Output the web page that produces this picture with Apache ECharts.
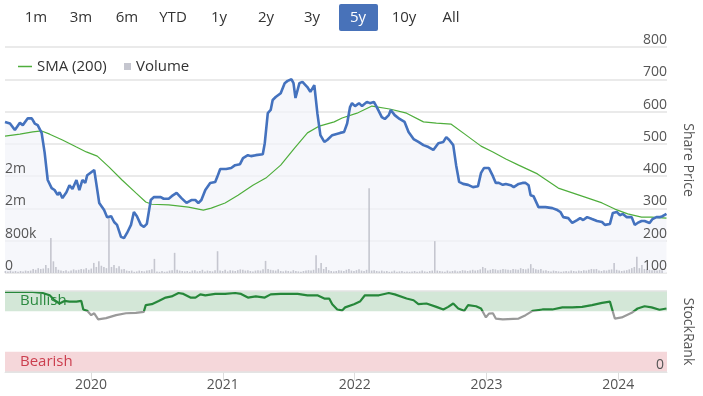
<!DOCTYPE html>
<html><head><meta charset="utf-8">
<script src="https://cdn.jsdelivr.net/npm/echarts@6/dist/echarts.min.js"></script>
<style>html,body{margin:0;padding:0;background:#fff}#c{width:703px;height:396px}</style>
</head><body><div id="c"></div>
<script>
// Time is expressed in decimal years
const xMin = 2019.347, xMax = 2024.37;
const yearTicks = [2020, 2021, 2022, 2023, 2024];
const rangeButtons = ['1m','3m','6m','YTD','1y','2y','3y','5y','10y','All'];
const priceTicks = [100,200,300,400,500,600,700,800];

const priceT = [2019.347,2019.385,2019.422,2019.460,2019.482,2019.520,2019.550,2019.573,2019.595,2019.625,2019.648,2019.671,2019.701,2019.723,2019.746,2019.761,2019.783,2019.813,2019.836,2019.859,2019.889,2019.911,2019.934,2019.956,2019.971,2020.024,2020.039,2020.062,2020.099,2020.122,2020.152,2020.175,2020.197,2020.227,2020.250,2020.273,2020.303,2020.325,2020.348,2020.378,2020.401,2020.423,2020.453,2020.476,2020.529,2020.551,2020.589,2020.612,2020.649,2020.686,2020.724,2020.761,2020.791,2020.814,2020.837,2020.867,2020.904,2020.942,2020.957,2020.980,2021.025,2021.063,2021.093,2021.130,2021.153,2021.190,2021.213,2021.250,2021.303,2021.318,2021.341,2021.363,2021.378,2021.401,2021.439,2021.469,2021.491,2021.521,2021.536,2021.551,2021.581,2021.604,2021.641,2021.664,2021.694,2021.717,2021.740,2021.770,2021.792,2021.830,2021.890,2021.920,2021.943,2021.965,2021.980,2022.003,2022.033,2022.056,2022.093,2022.116,2022.146,2022.168,2022.206,2022.229,2022.259,2022.274,2022.304,2022.341,2022.379,2022.409,2022.447,2022.484,2022.522,2022.560,2022.597,2022.635,2022.673,2022.695,2022.718,2022.748,2022.770,2022.793,2022.823,2022.861,2022.898,2022.936,2022.959,2022.981,2023.019,2023.049,2023.071,2023.094,2023.124,2023.147,2023.184,2023.207,2023.244,2023.274,2023.297,2023.320,2023.335,2023.357,2023.395,2023.448,2023.500,2023.538,2023.561,2023.583,2023.621,2023.651,2023.688,2023.711,2023.734,2023.764,2023.801,2023.839,2023.877,2023.899,2023.937,2023.959,2023.989,2024.012,2024.035,2024.065,2024.102,2024.125,2024.147,2024.177,2024.200,2024.238,2024.260,2024.290,2024.313,2024.336,2024.366];
const priceV = [568,563,543,565,558,579,579,563,558,534,472,388,363,357,342,350,332,350,372,360,388,357,388,379,403,419,379,317,295,273,276,258,249,212,208,224,249,289,276,249,243,252,326,335,335,330,330,338,348,332,317,326,326,317,326,357,379,382,397,422,422,425,434,437,456,465,462,465,468,502,595,605,636,645,657,688,695,700,688,642,688,692,676,661,682,595,527,506,512,527,534,537,563,614,626,617,626,617,630,626,630,614,583,577,589,605,589,577,568,537,515,506,496,490,481,502,506,521,512,496,434,382,376,373,366,369,410,425,425,400,379,379,373,376,372,366,376,379,379,372,341,338,304,304,301,295,289,273,270,255,264,270,264,273,267,261,258,249,252,286,289,279,283,273,273,249,255,261,261,255,267,273,273,276,283];

const smaT = [2019.347,2019.460,2019.558,2019.625,2019.686,2019.783,2019.889,2019.964,2020.047,2020.137,2020.235,2020.340,2020.415,2020.461,2020.589,2020.739,2020.852,2020.912,2021.017,2021.115,2021.228,2021.326,2021.439,2021.544,2021.642,2021.732,2021.845,2021.905,2022.018,2022.131,2022.266,2022.394,2022.522,2022.620,2022.733,2022.846,2022.959,2023.049,2023.147,2023.244,2023.387,2023.545,2023.748,2023.877,2023.974,2024.072,2024.177,2024.253,2024.366];
const smaV = [524,530,537,540,530,512,490,475,462,428,388,348,320,313,311,304,295,301,317,341,372,394,434,487,534,555,568,580,595,617,608,595,568,564,561,527,493,475,453,434,407,363,335,317,298,283,273,273,270];

// weekly volume (thousands of shares), first week starting at volStart
const volStart = 2019.35;
const volK = [50,40,60,40,50,30,50,40,60,50,
 60,100,80,120,100,110,200,120,870,290,
 150,80,60,50,70,40,60,90,70,80,
 100,90,120,80,110,250,150,290,180,150,
 120,1370,150,200,120,170,90,100,60,50,
 60,30,40,60,50,40,60,70,90,350,
 40,30,50,30,40,60,70,500,80,60,
 50,40,50,30,60,70,40,50,80,40,
 60,50,40,70,540,60,50,80,40,70,
 60,50,70,90,80,60,70,50,40,60,
 70,60,90,300,100,80,70,60,90,50,
 40,60,50,40,70,50,40,30,50,60,
 70,60,80,440,120,250,100,150,70,50,
 40,50,70,60,50,80,100,60,50,70,
 90,60,50,80,2100,60,70,50,40,60,
 40,50,30,40,60,30,40,50,30,40,
 30,40,50,30,40,60,40,30,50,60,
 790,60,50,40,30,60,40,50,60,40,
 50,70,60,50,60,80,60,70,90,150,
 120,60,80,100,90,70,80,100,90,80,
 70,100,90,80,120,100,90,110,220,120,
 90,80,100,60,70,50,40,60,50,40,
 30,40,50,40,60,50,40,60,50,70,
 60,80,100,90,100,60,50,70,60,80,
 90,250,80,60,50,60,70,90,120,150,
 400,120,200,100,90,80,70,90,60,80,70];

const rankT = [2019.347,2019.558,2019.633,2019.686,2019.723,2019.761,2019.798,2019.836,2019.889,2019.926,2019.941,2019.971,2020.001,2020.024,2020.054,2020.114,2020.190,2020.265,2020.340,2020.400,2020.415,2020.461,2020.513,2020.566,2020.611,2020.664,2020.701,2020.754,2020.792,2020.829,2020.867,2020.942,2021.017,2021.093,2021.138,2021.190,2021.250,2021.318,2021.363,2021.439,2021.567,2021.642,2021.717,2021.770,2021.807,2021.830,2021.868,2021.905,2021.928,2021.943,2021.995,2022.040,2022.078,2022.184,2022.259,2022.304,2022.394,2022.447,2022.484,2022.545,2022.620,2022.673,2022.710,2022.748,2022.786,2022.831,2022.861,2022.921,2022.959,2022.996,2023.019,2023.049,2023.071,2023.124,2023.244,2023.297,2023.350,2023.425,2023.500,2023.576,2023.651,2023.726,2023.801,2023.877,2023.937,2023.974,2024.027,2024.102,2024.147,2024.200,2024.253,2024.313,2024.366];
const rankV = [98.8,98.8,97.5,94.7,88.6,84.6,87.7,86.9,86.9,87.7,77.2,75.5,70.2,72.5,65,66.5,70.2,72.5,73,74.3,82.5,83.7,87.7,91.9,93.3,97.5,96.4,91.9,91.9,95.8,94.7,96.4,96.4,97.5,96.4,91.9,93.3,91.9,95.8,96.4,96.4,94.7,94.7,90.7,90.7,83.7,77.2,76,79.8,79.8,83.7,86.9,94.7,94.7,97.5,95.8,90.7,88.6,83.7,84.6,80.4,77.2,80.4,84.6,78.4,75.5,82.5,81.2,78.4,67.4,72,72.5,66,65,66,70.2,75.5,77.2,77.2,79.8,79.8,80.4,82.5,85.3,86.9,66,67.4,73,78.4,81.2,79.8,76.8,78.4];
const bullishBand = [75, 100], bearishBand = [0, 25];

const zip = (a, b) => a.map((t, i) => [t, b[i]]);
const volData = volK.map((v, i) => [volStart + i * 7 / 365.25, v * 1000]);

const FONT = 'Open Sans';
const btnX = [36,81,127,173,219,266,312,358,404,451];
const graphics = [];
rangeButtons.forEach((b, i) => {
  const sel = b === '5y';
  if (sel) graphics.push({type:'rect', shape:{x:339,y:4,width:39,height:27,r:2}, style:{fill:'#4872b9'}});
  graphics.push({type:'text', x:btnX[i], y:18, style:{text:b, fill: sel ? '#fff' : '#333', font:'15px "'+FONT+'"', align:'center', verticalAlign:'middle'}});
});

// StockRank panel geometry (pixels) used for the threshold gradient
const rankTop = 291, rankH = 81;
const thr = 1 - bullishBand[0] / 100;
const rankColor = {type:'linear', x:0, y:rankTop, x2:0, y2:rankTop + rankH, global:true,
  colorStops:[{offset:0,color:'#26873a'},{offset:thr,color:'#26873a'},{offset:thr,color:'#9a9a9a'},{offset:1,color:'#9a9a9a'}]};

const lbl = {inside:true, verticalAlign:'bottom', color:'#555', fontSize:14, fontFamily:FONT};
const nameStyle = {fontSize:14, color:'#555', fontFamily:FONT};

const chart = echarts.init(document.getElementById('c'), null, {renderer:'canvas'});
chart.setOption({
  animation:false,
  textStyle:{fontFamily:FONT},
  graphic: graphics,
  legend:[
    {data:[{name:'SMA (200)', icon:'rect'}], left:13, top:54, itemWidth:14, itemHeight:1.5, itemGap:8,
     textStyle:{fontSize:15, color:'#333', fontFamily:FONT}},
    {data:[{name:'Volume', icon:'rect'}], left:119, top:54, itemWidth:7, itemHeight:7, itemGap:8,
     textStyle:{fontSize:15, color:'#333', fontFamily:FONT}}
  ],
  grid:[
    {left:5, right:30, top:47, height:226},
    {left:5, right:30, top:rankTop, height:rankH}
  ],
  xAxis:[
    {type:'value', gridIndex:0, min:xMin, max:xMax, show:false},
    {type:'value', gridIndex:1, min:xMin, max:xMax,
     axisLine:{show:true, lineStyle:{color:'#e6e6e6'}},
     axisTick:{show:true, customValues:yearTicks, length:8, inside:false, lineStyle:{color:'#ddd'}},
     splitLine:{show:false},
     axisLabel:{customValues:yearTicks, formatter:v=>String(Math.round(v)), color:'#555', fontSize:14, margin:6, fontFamily:FONT}}
  ],
  yAxis:[
    // 0: price grid lines (drawn underneath the series)
    {type:'value', gridIndex:0, position:'right', min:100, max:800, interval:100, z:0,
     axisLine:{show:false}, axisTick:{show:false}, axisLabel:{show:false},
     splitLine:{show:true, lineStyle:{color:'#e3e3e3', width:1.5}}},
    // 1: volume axis
    {type:'value', gridIndex:0, position:'left', min:0, max:5600000, interval:800000, z:10,
     axisLine:{show:false}, axisTick:{show:false}, splitLine:{show:false},
     axisLabel:Object.assign({}, lbl, {margin:0,
       formatter:v=> v===0 ? '0' : v<1000000 ? Math.round(v/1000)+'k' : v<=2400000 ? Math.round(v/1000000)+'m' : ''})},
    // 2: StockRank
    {type:'value', gridIndex:1, position:'right', min:0, max:100, interval:100, z:10,
     name:'StockRank', nameLocation:'middle', nameRotate:-90, nameGap:14, nameTextStyle:nameStyle,
     axisLine:{show:false}, axisTick:{show:false},
     axisLabel:Object.assign({}, lbl, {margin:3, formatter:v=> v===0 ? '0' : ''}),
     splitLine:{show:true, lineStyle:{color:'#e3e3e3', width:1.5}}},
    // 3: price labels (on top)
    {type:'value', gridIndex:0, position:'right', min:100, max:800, interval:100, z:10,
     name:'Share Price', nameLocation:'middle', nameRotate:-90, nameGap:14, nameTextStyle:nameStyle,
     axisLine:{show:false}, axisTick:{show:false}, splitLine:{show:false},
     axisLabel:Object.assign({}, lbl, {margin:0})}
  ],
  series:[
    {name:'priceArea', type:'line', xAxisIndex:0, yAxisIndex:0, data:zip(priceT, priceV), showSymbol:false,
     lineStyle:{width:0, opacity:0}, areaStyle:{color:'#f2f4fa', origin:'start'}, z:1, silent:true},
    {name:'Volume', type:'bar', xAxisIndex:0, yAxisIndex:1, data:volData, barWidth:1.6,
     itemStyle:{color:'#c5c6cf'}, z:2},
    {name:'SMA (200)', type:'line', xAxisIndex:0, yAxisIndex:0, data:zip(smaT, smaV), showSymbol:false,
     lineStyle:{width:1.2, color:'#4fae3c'}, itemStyle:{color:'#4fae3c'}, z:3},
    {name:'Price', type:'line', xAxisIndex:0, yAxisIndex:0, data:zip(priceT, priceV), showSymbol:false,
     lineStyle:{width:2.6, color:'#4472be'}, z:4},
    {name:'bands', type:'line', xAxisIndex:1, yAxisIndex:2, data:[], z:1,
     markArea:{silent:true, data:[
       [{yAxis:bullishBand[0], itemStyle:{color:'#d3e7d7'},
         label:{show:true, position:'insideLeft', formatter:'Bullish', color:'#2b8a40', fontSize:15, fontFamily:FONT, offset:[10,0]}},
        {yAxis:bullishBand[1]}],
       [{yAxis:bearishBand[0], itemStyle:{color:'#f5d7da'},
         label:{show:true, position:'insideLeft', formatter:'Bearish', color:'#cc3f4f', fontSize:15, fontFamily:FONT, offset:[10,0]}},
        {yAxis:bearishBand[1]}]
     ]}},
    {name:'StockRank', type:'line', xAxisIndex:1, yAxisIndex:2, data:zip(rankT, rankV), showSymbol:false,
     lineStyle:{width:2.2, color:rankColor}, z:4}
  ]
});
</script></body></html>
